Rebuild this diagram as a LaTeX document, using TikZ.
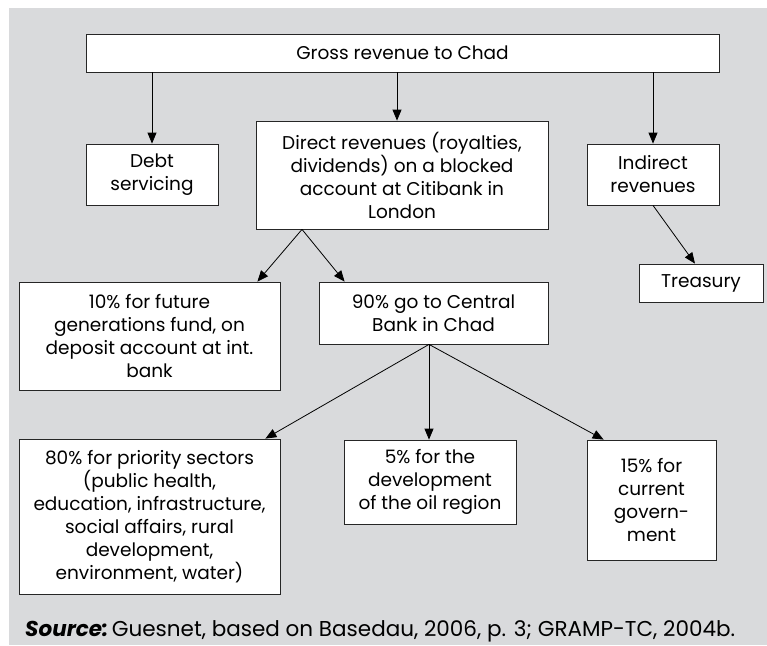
\documentclass[tikz,border=0pt]{standalone}
\usepackage{fontspec}
\setmainfont{Poppins}
\usetikzlibrary{arrows.meta}
\definecolor{bggray}{RGB}{217,218,220}

\begin{document}
\begin{tikzpicture}[x=1pt, y=-1pt,
    box/.style={draw=black!85, fill=white, line width=0.8pt, align=center,
      inner sep=0pt, font=\fontsize{18.5}{23}\selectfont},
    arr/.style={-{Triangle[length=11pt, width=9pt]}, line width=0.8pt}]

  \useasboundingbox (0,0) rectangle (767,645);
  \fill[bggray] (9,8) rectangle (767,645);

  % top level
  \node[box, minimum width=633pt, minimum height=38pt] (gross) at (402.5,53) {Gross revenue to Chad};

  \node[box, minimum width=132pt, minimum height=61pt] (debt) at (152,174.5) {Debt\\servicing};
  \node[box, minimum width=292pt, minimum height=108pt] (direct) at (402,175)
    {Direct revenues (royalties,\\dividends) on a blocked\\account at Citibank in\\London};
  \node[box, minimum width=132pt, minimum height=61pt] (indirect) at (653,174.5) {Indirect\\revenues};
  \node[box, minimum width=124pt, minimum height=38pt] (treasury) at (701,283) {Treasury};

  % second level
  \node[box, minimum width=261pt, minimum height=108pt] (ten) at (149.5,336)
    {10\% for future\\generations fund, on\\deposit account at int.\\bank};
  \node[box, minimum width=229pt, minimum height=62pt] (ninety) at (433.5,313)
    {90\% go to Central\\Bank in Chad};

  % third level
  \node[box, minimum width=261pt, minimum height=155pt] (eighty) at (149.5,516.5)
    {80\% for priority sectors\\(public health,\\education, infrastructure,\\social affairs, rural\\development,\\environment, water)};
  \node[box, minimum width=172pt, minimum height=84pt] (five) at (430,482)
    {5\% for the\\development\\of the oil region};
  \node[box, minimum width=129pt, minimum height=120pt] (fifteen) at (651.5,500)
    {15\% for\\current\\govern-\\ment};

  \coordinate (split) at ([xshift=-100pt]direct.south);
  \coordinate (fork) at ([xshift=-4.5pt]ninety.south);

  \draw[arr] (gross.south -| debt.north) -- (debt.north);
  \draw[arr] ([xshift=-5pt]gross.south -| direct.north) -- ([xshift=-5pt]direct.north);
  \draw[arr] (gross.south -| indirect.north) -- (indirect.north);
  \draw[arr] (indirect.south) -- ([xshift=-6pt]treasury.north);

  \draw[arr] (split) -- ([xshift=-23pt]ten.north east);
  \draw[arr] (split) -- ([xshift=26pt]ninety.north west);

  \draw[arr] (fork) -- ([xshift=-15pt]eighty.north east);
  \draw[arr] (fork) -- (fork |- five.north);
  \draw[arr] (fork) -- ([xshift=17pt]fifteen.north west);

  \node[anchor=base west, inner sep=0pt, font=\fontsize{21.5}{24}\selectfont] (source) at (25,636)
    {\textbf{\textit{Source:}}\,Guesnet, based on Basedau, 2006, p. 3; GRAMP-TC, 2004b.};

\end{tikzpicture}
\end{document}
